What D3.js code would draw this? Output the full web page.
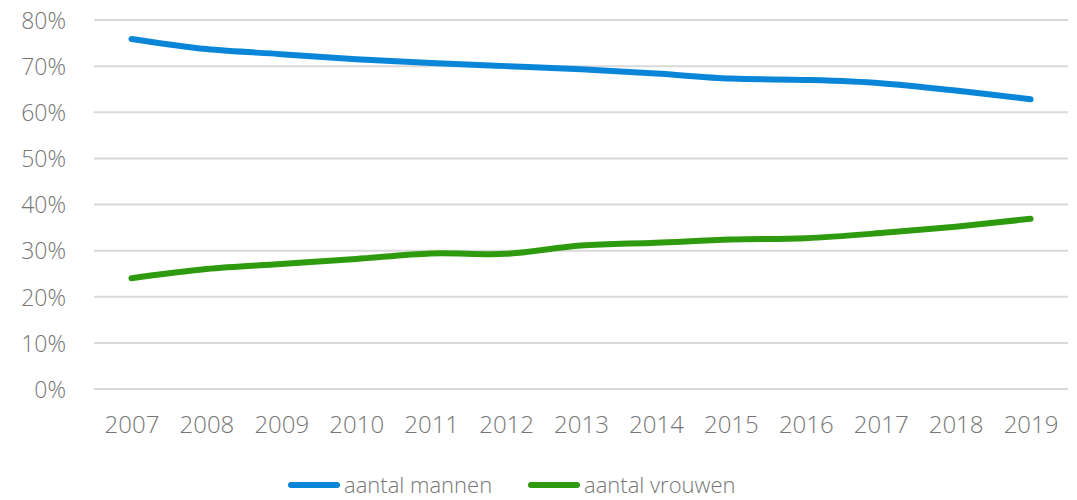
<!DOCTYPE html>
<html>
<head>
<meta charset="utf-8">
<script src="https://cdn.jsdelivr.net/npm/d3@7"></script>
<style>
  html, body { margin: 0; padding: 0; background: #fff; }
  svg { display: block; }
  text { font-family: "Open Sans", sans-serif; font-weight: 300; fill: #767676; }
</style>
</head>
<body>
<svg id="chart" width="1077" height="500"></svg>
<script>
// Share of men and women per year
const years = ["2007","2008","2009","2010","2011","2012","2013","2014","2015","2016","2017","2018","2019"];
const mannen = [75.9, 73.7, 72.6, 71.5, 70.7, 70.0, 69.3, 68.4, 67.3, 67.0, 66.3, 64.7, 62.8];
const vrouwen = [24.0, 26.0, 27.1, 28.2, 29.4, 29.3, 31.1, 31.7, 32.4, 32.7, 33.8, 35.2, 36.9];
const yTicks = [0, 10, 20, 30, 40, 50, 60, 70, 80];
const seriesNames = ["aantal mannen", "aantal vrouwen"];
const seriesColors = ["#0a86d8", "#2e9b0f"];

const svg = d3.select("#chart");
const plotLeft = 94, plotRight = 1068, plotTop = 20, plotBottom = 389;

const x = d3.scalePoint().domain(years).range([plotLeft, plotRight]).padding(0.5);
const y = d3.scaleLinear().domain([0, 80]).range([plotBottom, plotTop]);

// horizontal gridlines
svg.append("g")
  .selectAll("line")
  .data(yTicks)
  .join("line")
  .attr("x1", plotLeft).attr("x2", plotRight)
  .attr("y1", d => y(d)).attr("y2", d => y(d))
  .attr("stroke", "#d9d9d9").attr("stroke-width", 2);

// y axis labels
const yAxis = svg.append("g")
  .attr("transform", `translate(${plotLeft - 28},0)`)
  .call(d3.axisLeft(y).tickValues(yTicks).tickFormat(d => d + "%").tickSize(0).tickPadding(0));
yAxis.select(".domain").remove();
yAxis.selectAll("text")
  .attr("fill", "#767676")
  .attr("font-family", "Open Sans")
  .style("font-size", "23px")
  .attr("dy", "0.36em");

// x axis labels
const xAxis = svg.append("g")
  .attr("transform", `translate(0,${plotBottom + 27})`)
  .call(d3.axisBottom(x).tickSize(0).tickPadding(0));
xAxis.select(".domain").remove();
xAxis.selectAll("text")
  .attr("fill", "#767676")
  .attr("font-family", "Open Sans")
  .style("font-size", "24px")
  .attr("dy", "0.72em");

// smoothed lines
const line = d3.line()
  .x((d, i) => x(years[i]))
  .y(d => y(d))
  .curve(d3.curveCatmullRom.alpha(0.5));

[mannen, vrouwen].forEach((vals, i) => {
  svg.append("path")
    .datum(vals)
    .attr("d", line)
    .attr("fill", "none")
    .attr("stroke", seriesColors[i])
    .attr("stroke-width", 6)
    .attr("stroke-linecap", "round")
    .attr("stroke-linejoin", "round");
});

// legend
const legendItems = [
  { name: seriesNames[0], color: seriesColors[0], x: 291 },
  { name: seriesNames[1], color: seriesColors[1], x: 531 }
];
const lg = svg.append("g").attr("transform", "translate(0,485)");
legendItems.forEach(it => {
  lg.append("line")
    .attr("x1", it.x).attr("x2", it.x + 46)
    .attr("y1", 0).attr("y2", 0)
    .attr("stroke", it.color).attr("stroke-width", 6)
    .attr("stroke-linecap", "round");
  lg.append("text")
    .attr("x", it.x + 53).attr("y", 0)
    .attr("dy", "0.36em")
    .style("font-size", "22px")
    .text(it.name);
});
</script>
</body>
</html>
